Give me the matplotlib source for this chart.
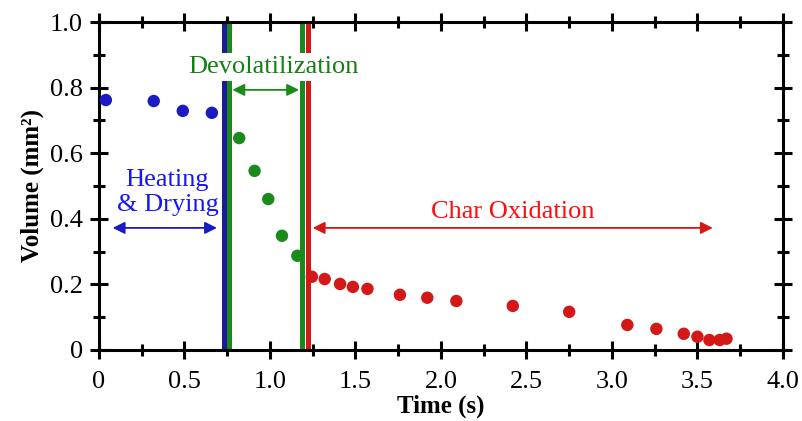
import numpy as np
import matplotlib
matplotlib.use("Agg")
import matplotlib.pyplot as plt
from matplotlib.ticker import MultipleLocator, FixedLocator

plt.rcParams['font.family'] = ['Liberation Serif', 'DejaVu Serif']

# Data
heat_t = [0.04, 0.32, 0.49, 0.66]
heat_v = [0.762, 0.759, 0.729, 0.723]
devol_t = [0.82, 0.91, 0.99, 1.07, 1.16]
devol_v = [0.646, 0.546, 0.460, 0.348, 0.287]
char_t = [1.245, 1.32, 1.41, 1.485, 1.57, 1.76, 1.92, 2.09, 2.42, 2.75,
          3.09, 3.26, 3.42, 3.50, 3.57, 3.63, 3.67]
char_v = [0.223, 0.216, 0.201, 0.192, 0.186, 0.168, 0.159, 0.149, 0.134, 0.116,
          0.076, 0.064, 0.049, 0.040, 0.030, 0.030, 0.034]

# stage boundaries (s)
b_heat_end = 0.73
b_devol_start = 0.76
b_devol_end = 1.19
b_char_start = 1.22

x_ticks = [0, 0.5, 1.0, 1.5, 2.0, 2.5, 3.0, 3.5, 4.0]
x_labels = ['0', '0.5', '1.0', '1.5', '2.0', '2.5', '3.0', '3.5', '4.0']
y_ticks = [0, 0.2, 0.4, 0.6, 0.8, 1.0]
y_labels = ['0', '0.2', '0.4', '0.6', '0.8', '1.0']

c_blue = '#1b1bc4'
c_green = '#1a8a1a'
c_red = '#d41818'

fig = plt.figure(figsize=(8.03, 4.21), dpi=100)
ax = fig.add_axes([0.1233, 0.169, 0.8517, 0.7787])

# stage boundary lines
ax.axvline(b_heat_end, color='#1a1a9a', lw=3.6, zorder=2)
ax.axvline(b_devol_start, color=c_green, lw=3.6, zorder=2)
ax.axvline(b_devol_end, color=c_green, lw=3.6, zorder=2)
ax.axvline(b_char_start, color=c_red, lw=3.6, zorder=2)

# data points
ax.scatter(heat_t, heat_v, s=80, color=c_blue, edgecolors='none', zorder=3)
ax.scatter(devol_t, devol_v, s=80, color=c_green, edgecolors='none', zorder=3)
ax.scatter(char_t, char_v, s=80, color=c_red, edgecolors='none', zorder=3)

# arrows
ax.annotate('', xy=(0.08, 0.372), xytext=(0.69, 0.372),
            arrowprops=dict(arrowstyle='<|-|>', color=c_blue, lw=1.3,
                            mutation_scale=18, shrinkA=0, shrinkB=0))
ax.annotate('', xy=(0.78, 0.793), xytext=(1.17, 0.793),
            arrowprops=dict(arrowstyle='<|-|>', color=c_green, lw=1.3,
                            mutation_scale=18, shrinkA=0, shrinkB=0))
ax.annotate('', xy=(1.25, 0.372), xytext=(3.59, 0.372),
            arrowprops=dict(arrowstyle='<|-|>', color=c_red, lw=1.3,
                            mutation_scale=18, shrinkA=0, shrinkB=0))

# stage labels
ax.text(0.40, 0.48, 'Heating\n& Drying', color='#1515ff', fontsize=19,
        ha='center', va='center', linespacing=1.15, zorder=4)
ax.text(1.02, 0.862, 'Devolatilization', color='#138013', fontsize=19,
        ha='center', va='center', zorder=4,
        bbox=dict(facecolor='white', edgecolor='none', pad=2))
ax.text(2.42, 0.42, 'Char Oxidation', color='#ff0d0d', fontsize=19,
        ha='center', va='center', zorder=4)

ax.set_xlim(0, 4.0)
ax.set_ylim(0, 1.0)
ax.xaxis.set_major_locator(FixedLocator(x_ticks))
ax.set_xticklabels(x_labels)
ax.yaxis.set_major_locator(FixedLocator(y_ticks))
ax.set_yticklabels(y_labels)
ax.xaxis.set_minor_locator(MultipleLocator(0.25))
ax.yaxis.set_minor_locator(MultipleLocator(0.1))

for sp in ax.spines.values():
    sp.set_linewidth(2.2)
ax.tick_params(which='both', direction='inout', top=True, right=True,
               labelsize=19, width=2.2, pad=5)
ax.tick_params(axis='x', which='major', pad=9)
ax.tick_params(which='major', length=13)
ax.tick_params(which='minor', length=9)

ax.set_xlabel('Time (s)', fontsize=18, fontweight='bold', labelpad=1)
ax.set_ylabel('Volume (mm²)', fontsize=18, fontweight='bold', labelpad=4)

fig.savefig('out.png', dpi=100)
